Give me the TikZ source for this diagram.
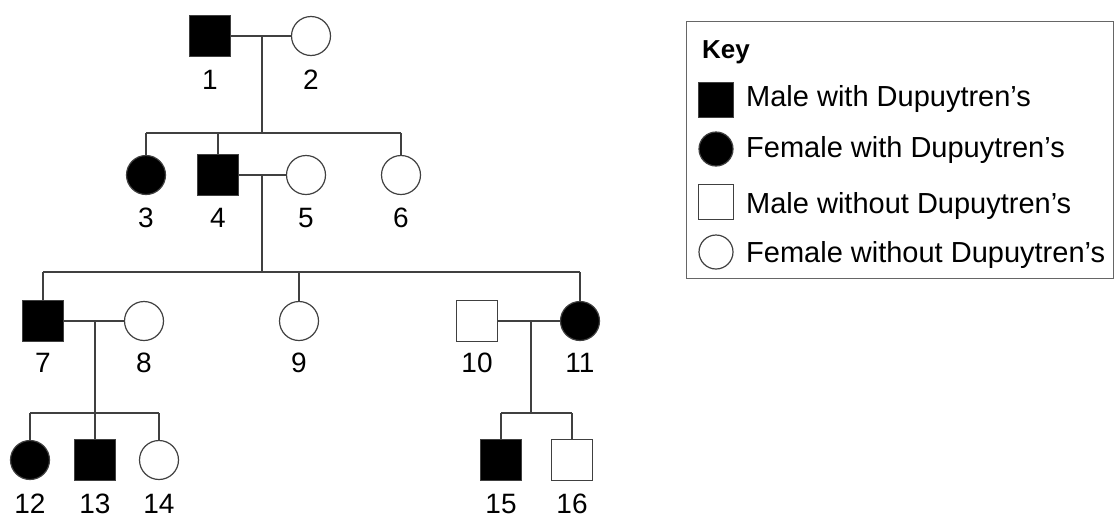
\documentclass[tikz,border=0pt]{standalone}
\usepackage{fontspec}
\setmainfont{Liberation Sans}
\begin{document}
\begin{tikzpicture}[x=1pt,y=-1pt,
  person/.style={draw=black!75, line width=1.2pt, inner sep=0pt},
  male/.style={person, rectangle, minimum size=41pt},
  female/.style={person, circle, minimum size=39pt},
  aff/.style={fill=black},
  unaff/.style={fill=white},
  num/.style={anchor=base, font=\fontsize{28}{28}\selectfont, inner sep=0pt},
  link/.style={draw=black!75, line width=1.2pt},
  keytext/.style={anchor=base west, font=\fontsize{29}{29}\selectfont, inner sep=0pt}]
\useasboundingbox[fill=white] (0,0) rectangle (1115,517);

% generation I
\node[male,aff] (p1) at (210,36) {};
\node[female,unaff] (p2) at (311,36) {};
\coordinate (m1) at (262,36);
\coordinate (s1) at (262,133);
% generation II
\node[female,aff] (p3) at (146,175) {};
\node[male,aff] (p4) at (218,175) {};
\node[female,unaff] (p5) at (306,175) {};
\node[female,unaff] (p6) at (401,175) {};
\coordinate (m2) at (262,175);
\coordinate (s2) at (262,272);
% generation III
\node[male,aff] (p7) at (43,321) {};
\node[female,unaff] (p8) at (144,321) {};
\node[female,unaff] (p9) at (299,321) {};
\node[male,unaff] (p10) at (477,321) {};
\node[female,aff] (p11) at (580,321) {};
\coordinate (m3) at (95,321);
\coordinate (s3) at (95,413);
\coordinate (m4) at (531,321);
\coordinate (s4) at (531,413);
% generation IV
\node[female,aff] (p12) at (30,460) {};
\node[male,aff] (p13) at (95,460) {};
\node[female,unaff] (p14) at (159,460) {};
\node[male,aff] (p15) at (501,460) {};
\node[male,unaff] (p16) at (572,460) {};

% connectors
\draw[link] (p1) -- (p2);
\draw[link] (m1) -- (s1);
\draw[link] (p3 |- s1) -- (p6 |- s1);
\foreach \c in {p3,p4,p6} \draw[link] (\c |- s1) -- (\c);
\draw[link] (p4) -- (p5);
\draw[link] (m2) -- (s2);
\draw[link] (p7 |- s2) -- (p11 |- s2);
\foreach \c in {p7,p9,p11} \draw[link] (\c |- s2) -- (\c);
\draw[link] (p7) -- (p8);
\draw[link] (m3) -- (s3);
\draw[link] (p12 |- s3) -- (p14 |- s3);
\foreach \c in {p12,p13,p14} \draw[link] (\c |- s3) -- (\c);
\draw[link] (p10) -- (p11);
\draw[link] (m4) -- (s4);
\draw[link] (p15 |- s4) -- (p16 |- s4);
\foreach \c in {p15,p16} \draw[link] (\c |- s4) -- (\c);

% labels
\node[num] (l1) at (210,89) {1};
\node[num] (l2) at (311,89) {2};
\node[num] (l3) at (146,227) {3};
\node[num] (l4) at (218,227) {4};
\node[num] (l5) at (306,227) {5};
\node[num] (l6) at (401,227) {6};
\node[num] (l7) at (43,372) {7};
\node[num] (l8) at (144,372) {8};
\node[num] (l9) at (299,372) {9};
\node[num] (l10) at (477,372) {10};
\node[num] (l11) at (580,372) {11};
\node[num] (l12) at (30,513) {12};
\node[num] (l13) at (95,513) {13};
\node[num] (l14) at (159,513) {14};
\node[num] (l15) at (501,513) {15};
\node[num] (l16) at (572,513) {16};

% key
\node[draw=black!60, line width=1.2pt, anchor=north west, minimum width=427pt, minimum height=257pt, inner sep=0pt] (key) at (686,21) {};
\node[anchor=base west, font=\bfseries\fontsize{26}{26}\selectfont, inner sep=0pt] (kt) at (702,58) {Key};
\node[male,aff,minimum size=35pt] (k1) at (716,100) {};
\node[female,aff,minimum size=34pt] (k2) at (716,149) {};
\node[male,unaff,minimum size=35pt] (k3) at (716,202) {};
\node[female,unaff,minimum size=34pt] (k4) at (716,252) {};
\node[keytext] (kt1) at (746,106.5) {Male with Dupuytren’s};
\node[keytext] (kt2) at (746,157.5) {Female with Dupuytren’s};
\node[keytext] (kt3) at (746,213.5) {Male without Dupuytren’s};
\node[keytext] (kt4) at (746,262.5) {Female without Dupuytren’s};
\end{tikzpicture}
\end{document}
